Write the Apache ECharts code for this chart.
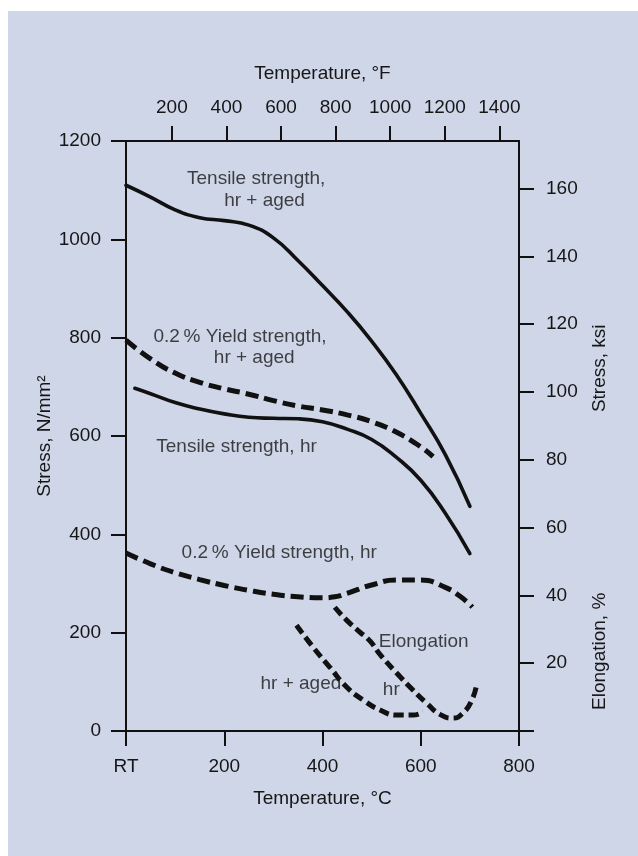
<!DOCTYPE html>
<html><head><meta charset="utf-8">
<script src="https://cdn.jsdelivr.net/npm/echarts@6/dist/echarts.min.js"></script>
<style>html,body{margin:0;padding:0;background:#fff}#c{width:638px;height:856px}</style>
</head><body><div id="c"></div>
<script>
// ---- tick labels ----
const tempCTicks = [0, 200, 400, 600, 800];
const tempFTicks = [200, 400, 600, 800, 1000, 1200, 1400];
const ksiTicks = [0, 20, 40, 60, 80, 100, 120, 140, 160];
const ksiLabels = [20, 40, 60, 80, 100, 120, 140, 160];

// ---- series: [temperature °C, stress N/mm²] ----
const tensileHrAged = [[0,1110],[50,1086],[100,1060],[150,1044],[200,1038],[250,1029],[300,1003],[350,957],[400,906],[450,853],[500,793],[550,725],[600,646],[650,562],[700,457]];
const yieldHrAged = [[0,795],[50,757],[100,728],[150,709],[200,696],[250,685],[300,672],[350,661],[400,653],[450,643],[500,629],[550,608],[600,578],[625,558]];
const tensileHr = [[18,697],[50,686],[100,668],[150,655],[200,645],[250,638],[300,636],[350,635],[400,629],[450,614],[500,593],[550,557],[600,510],[650,443],[700,361]];
const yieldHr = [[0,362],[50,340],[100,322],[150,308],[200,296],[250,286],[300,278],[350,273],[400,271],[425,273],[450,280],[500,297],[550,307],[600,307],[650,292],[680,274],[705,252]];
// ---- elongation, % (plotted on right-hand scale) ----
const elongHr = [[425,36.5],[449,32.7],[476,29.2],[497,26.5],[517,22.6],[551,17.1],[584,12.1],[612,8.2],[639,4.9],[666,3.8],[686,5.3],[704,9.1],[714,13.8]];
const elongHrAged = [[347,31.2],[381,24.7],[415,18.8],[449,13.0],[483,9.1],[517,6.2],[551,4.7],[584,4.7],[605,5.6]];

// ---- curve annotations: [text, °C, N/mm²] ----
const annotations = [
  ['Tensile strength,', 265, 1123],
  ['hr + aged', 282, 1078],
  ['0.2\u2009% Yield strength,', 232, 801],
  ['hr + aged', 261, 759],
  ['Tensile strength, hr', 225, 578],
  ['0.2\u2009% Yield strength, hr', 312, 362],
  ['Elongation', 606, 181],
  ['hr + aged', 356, 96],
  ['hr', 540, 83]
];

const FONT = 'Liberation Sans, Arial, sans-serif';
const FS = 19;
const INK = '#111';
const TXT = '#161616';
const KSI_MAX = 1200 / 6.894757;

const axisLine = {show: true, onZero: false, lineStyle: {color: INK, width: 2}};
const axisTick = {show: true, inside: false, length: 15, lineStyle: {color: INK, width: 2}};
const lbl = {color: TXT, fontSize: FS, fontFamily: FONT, formatter: v => String(v)};

const chart = echarts.init(document.getElementById('c'), null, {renderer: 'canvas'});

function solid(name, data) {
  return {name, type: 'line', data, smooth: 0.5, symbol: 'none', xAxisIndex: 0, yAxisIndex: 0,
    lineStyle: {color: INK, width: 3.6, cap: 'round'}, z: 3, silent: true};
}
function dashed(name, data, yIdx, dash, w) {
  return {name, type: 'line', data, smooth: 0.5, symbol: 'none', xAxisIndex: 0, yAxisIndex: yIdx,
    lineStyle: {color: INK, width: w, type: dash, cap: 'butt'}, z: 3, silent: true};
}

chart.setOption({
  animation: false,
  backgroundColor: '#ced6e8',
  grid: {left: 126, right: 119, top: 141, bottom: 125, containLabel: false},
  xAxis: [
    {type: 'value', position: 'bottom', min: 0, max: 800, interval: 200,
     axisLine, axisTick, splitLine: {show: false},
     axisLabel: Object.assign({}, lbl, {margin: 26, formatter: v => v === 0 ? 'RT' : String(v)}),
     name: 'Temperature, °C', nameLocation: 'middle', nameGap: 58,
     nameTextStyle: {color: TXT, fontSize: FS, fontFamily: FONT}},
    {type: 'value', position: 'top', min: 32, max: 1472,
     axisLine, axisTick: Object.assign({customValues: tempFTicks}, axisTick), splitLine: {show: false},
     axisLabel: Object.assign({}, lbl, {margin: 24, customValues: tempFTicks}),
     name: 'Temperature, °F', nameLocation: 'middle', nameGap: 58,
     nameTextStyle: {color: TXT, fontSize: FS, fontFamily: FONT}}
  ],
  yAxis: [
    {type: 'value', position: 'left', min: 0, max: 1200, interval: 200,
     axisLine, axisTick, splitLine: {show: false},
     axisLabel: Object.assign({}, lbl, {margin: 25}),
     name: 'Stress, N/mm²', nameLocation: 'middle', nameGap: 72, nameRotate: 90, nameMoveOverlap: false,
     nameTextStyle: {color: TXT, fontSize: FS, fontFamily: FONT}},
    {type: 'value', position: 'right', min: 0, max: KSI_MAX,
     axisLine, axisTick: Object.assign({customValues: ksiTicks}, axisTick), splitLine: {show: false},
     axisLabel: Object.assign({}, lbl, {margin: 27, customValues: ksiLabels})}
  ],
  series: [
    solid('Tensile strength, hr + aged', tensileHrAged),
    dashed('0.2% Yield strength, hr + aged', yieldHrAged, 0, [13, 6], 5),
    solid('Tensile strength, hr', tensileHr),
    dashed('0.2% Yield strength, hr', yieldHr, 0, [13, 6], 5),
    dashed('Elongation, hr', elongHr, 1, [10, 5], 5),
    dashed('Elongation, hr + aged', elongHrAged, 1, [10, 5], 5),
    {type: 'scatter', xAxisIndex: 0, yAxisIndex: 0, symbolSize: 0, silent: true, z: 5,
     data: annotations.map(a => ({name: a[0], value: [a[1], a[2]]})),
     label: {show: true, position: [0, 0], align: 'center', verticalAlign: 'middle',
       formatter: '{b}', color: TXT, fontSize: FS, fontFamily: FONT}}
  ]
});

// right-hand axis titles (two titles share the same scale)
const yStress = chart.convertToPixel({yAxisIndex: 1}, 107);
const yElong = chart.convertToPixel({yAxisIndex: 1}, 23.5);
chart.setOption({
  graphic: [
    {type: 'rect', shape: {x: 0, y: 0, width: 638, height: 11}, style: {fill: '#fff'}, silent: true},
    {type: 'rect', shape: {x: 0, y: 0, width: 8, height: 856}, style: {fill: '#fff'}, silent: true},
    {type: 'text', x: 600, y: yStress, rotation: Math.PI / 2, silent: true,
     style: {text: 'Stress, ksi', align: 'center', verticalAlign: 'middle', fill: TXT, fontSize: FS, fontFamily: FONT}},
    {type: 'text', x: 600, y: yElong, rotation: Math.PI / 2, silent: true,
     style: {text: 'Elongation, %', align: 'center', verticalAlign: 'middle', fill: TXT, fontSize: FS, fontFamily: FONT}}
  ]
});
</script></body></html>
